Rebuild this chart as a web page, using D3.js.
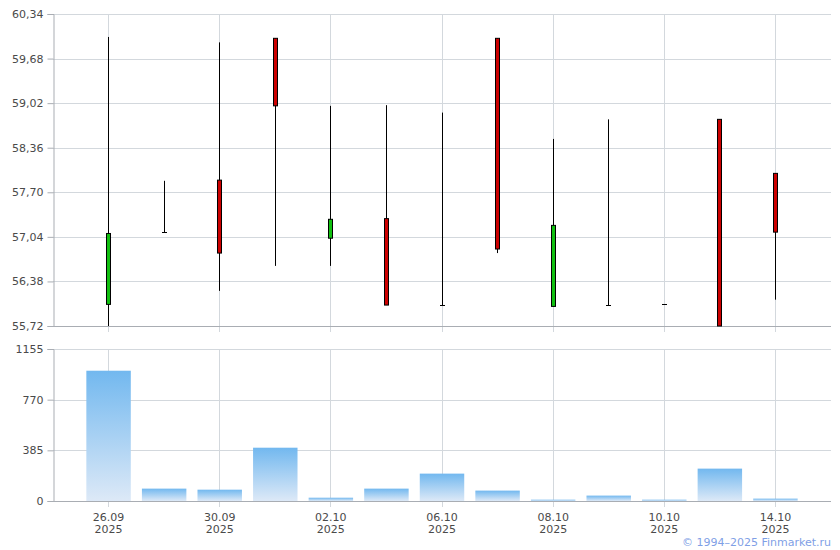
<!DOCTYPE html>
<html><head><meta charset="utf-8">
<script src="https://cdn.jsdelivr.net/npm/d3@7"></script>
<style>body{margin:0;background:#fff}svg{display:block}</style>
</head><body><svg id="c" width="840" height="550"></svg>
<script>
const dates = ["26.09","29.09","30.09","01.10","02.10","03.10","06.10","07.10","08.10","09.10","10.10","13.10","14.10"];
const years = ["2025","2025","2025","2025","2025","2025","2025","2025","2025","2025","2025","2025","2025"];
const open  = [56.04,57.11,57.88,59.98,57.02,57.31,56.03,59.98,56.01,56.03,56.04,58.78,57.98];
const high  = [60.00,57.87,59.92,59.98,58.98,58.99,58.88,59.98,58.49,58.78,56.04,58.78,57.98];
const low   = [55.72,57.10,56.24,56.61,56.61,56.03,56.03,56.80,56.01,56.03,56.04,55.72,56.11];
const close = [57.09,57.11,56.80,58.98,57.30,56.03,56.03,56.86,57.21,56.03,56.04,55.72,57.11];
const volume = [990,94,86,405,25,94,208,79,10,41,10,246,18];
const priceTicks = [55.72,56.38,57.04,57.70,58.36,59.02,59.68,60.34];
const volTicks = [0,385,770,1155];
const labelIdx = [0,2,4,6,8,10,12];

const svg = d3.select("#c");
const L = 53, R = 831;
const pTop = 14, pBot = 326, vTop = 349, vBot = 501;
const font = "Verdana, 'DejaVu Sans', sans-serif";
const gridC = "#d3d8dd", axisC = "#a9adb3", txtC = "#4a4a4a";

const x = d3.scaleLinear().domain([-1, dates.length]).range([L, R]);
const step = x(1) - x(0);
const px = v => Math.floor(v) + 0.5;
const yP = d3.scaleLinear().domain([55.72, 60.34]).range([pBot, pTop]);
const yV = d3.scaleLinear().domain([0, 1155]).range([vBot, vTop]);

const defs = svg.append("defs");
const g = defs.append("linearGradient").attr("id","vg").attr("x1",0).attr("y1",0).attr("x2",0).attr("y2",1);
g.append("stop").attr("offset","0%").attr("stop-color","#72b8ef");
g.append("stop").attr("offset","100%").attr("stop-color","#dde9f7");

function grid(y, ticks, top, bot) {
  const gg = svg.append("g");
  gg.selectAll("line.h").data(ticks).join("line")
    .attr("x1", L).attr("x2", R).attr("y1", d => Math.round(y(d))+0.5).attr("y2", d => Math.round(y(d))+0.5)
    .attr("stroke", gridC);
  gg.selectAll("line.v").data(labelIdx).join("line")
    .attr("x1", d => px(x(d))).attr("x2", d => px(x(d)))
    .attr("y1", top).attr("y2", bot + 6).attr("stroke", gridC);
}
grid(yP, priceTicks, pTop, pBot);
grid(yV, volTicks, vTop, vBot);

function yAxis(y, ticks, fmt, bot) {
  const a = svg.append("g").attr("transform", `translate(${L+0.5},0)`)
    .call(d3.axisLeft(y).tickValues(ticks).tickFormat(fmt).tickSize(6).tickPadding(4));
  a.select(".domain").attr("stroke", axisC);
  a.selectAll(".tick line").attr("stroke", axisC);
  a.selectAll("text").attr("fill", txtC).style("font-family", font).style("font-size", "11px");
  svg.append("line").attr("x1", L).attr("x2", R).attr("y1", bot+0.5).attr("y2", bot+0.5).attr("stroke", axisC);
}
yAxis(yP, priceTicks, d => d3.format(".2f")(d).replace(".", ","), pBot);
yAxis(yV, volTicks, d => String(d), vBot);

const cg = svg.append("g");
dates.forEach((d, i) => {
  const cx = px(x(i));
  cg.append("line").attr("x1", cx).attr("x2", cx).attr("y1", yP(high[i])).attr("y2", yP(low[i]))
    .attr("stroke", "#000").attr("stroke-width", 1);
  const o = open[i], c = close[i];
  if (Math.abs(o - c) < 0.005) {
    cg.append("line").attr("x1", cx-2.5).attr("x2", cx+2.5).attr("y1", Math.round(yP(o))+0.5).attr("y2", Math.round(yP(o))+0.5)
      .attr("stroke", "#000");
  } else {
    const t = yP(Math.max(o, c)), b = yP(Math.min(o, c));
    cg.append("rect").attr("x", cx-2).attr("width", 4).attr("y", t).attr("height", b - t)
      .attr("fill", c > o ? "#11c011" : "#cc0000").attr("stroke", "#000").attr("stroke-width", 1);
  }
});

const bw = step * 0.8;
svg.append("g").selectAll("rect").data(volume).join("rect")
  .attr("x", (d, i) => x(i) - bw/2).attr("width", bw)
  .attr("y", d => yV(d)).attr("height", d => yV(0) - yV(d))
  .attr("fill", "url(#vg)");
svg.append("line").attr("x1", L).attr("x2", R).attr("y1", vBot+0.5).attr("y2", vBot+0.5).attr("stroke", axisC);

const xl = svg.append("g").style("font-family", font).style("font-size", "11px").attr("fill", txtC).attr("text-anchor", "middle");
labelIdx.forEach(i => {
  xl.append("text").attr("x", x(i)).attr("y", 521).text(dates[i]);
  xl.append("text").attr("x", x(i)).attr("y", 533).text(years[i]);
});

svg.append("text").attr("x", 831).attr("y", 546).attr("text-anchor", "end")
  .style("font-family", font).style("font-size", "11px").attr("fill", "#7f9fe6")
  .text("© 1994–2025 Finmarket.ru");
</script></body></html>
